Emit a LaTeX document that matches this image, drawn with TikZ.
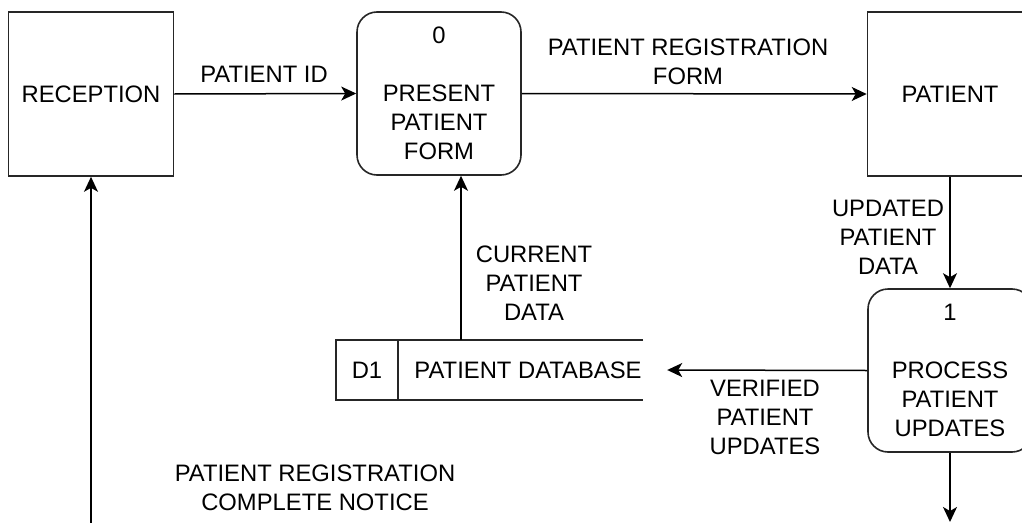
\documentclass[tikz,border=0pt]{standalone}
\usepackage{fontspec}
\setmainfont{Liberation Sans}
\usetikzlibrary{arrows.meta,calc}
\begin{document}
\begin{tikzpicture}[x=1pt,y=-1pt,
  every node/.style={font=\fontsize{23.8}{29}\selectfont, text=black, inner sep=0pt, align=center},
  ent/.style={draw=black!85, line width=1.6pt, minimum width=165pt, minimum height=164pt},
  proc/.style={draw=black!85, line width=1.6pt, rounded corners=20pt, minimum width=164pt, minimum height=163pt},
  store/.style={draw=black!85, line width=1.6pt},
  arr/.style={draw=black, line width=1.5pt, -{Stealth[length=15pt,width=14pt,inset=4pt]}},
  lbl/.style={}]
\clip (0,0) rectangle (1022,522);
\fill[white] (0,0) rectangle (1022,522);

\node[ent] (rec) at (91,94) {RECEPTION};
\node[proc] (pform) at (439,93.5) {0\\~\\PRESENT\\PATIENT\\FORM};
\node[ent] (pat) at (950,94) {PATIENT};
\node[proc] (pproc) at (950,370.5) {1\\~\\PROCESS\\PATIENT\\UPDATES};

% data store
\node[minimum width=331pt, minimum height=60pt] (ds) at (501.5,370) {};
\node[minimum width=62pt, minimum height=60pt] (d1) at (367,370) {D1};
\node (dbt) at (528,370) {PATIENT DATABASE};
\draw[store, line join=miter] ($(ds.north east)+(-24,0)$) -- (ds.north west) -- (ds.south west) -- ($(ds.south east)+(-24,0)$);
\draw[store] (d1.north east) -- (d1.south east);

\coordinate (cx) at (461,0);
\coordinate (recin) at (91,530);
\coordinate (procout) at (950,522);

\draw[arr] (rec.east) -- (pform.west);
\draw[arr] (pform.east) -- (pat.west);
\draw[arr] (pat.south) -- (pproc.north);
\draw[arr] (pproc.west) -- (ds.east);
\draw[arr] (ds.north -| cx) -- (pform.south -| cx);
\draw[arr] (recin) -- (rec.south);
\draw[arr] (pproc.south) -- (procout);

\node[lbl] (l1) at (264,74) {PATIENT ID};
\node[lbl] (l2) at (688,62) {PATIENT REGISTRATION\\FORM};
\node[lbl] (l3) at (888,237) {UPDATED\\PATIENT\\DATA};
\node[lbl] (l4) at (765,417) {VERIFIED\\PATIENT\\UPDATES};
\node[lbl] (l5) at (534,283) {CURRENT\\PATIENT\\DATA};
\node[lbl] (l6) at (315,488) {PATIENT REGISTRATION\\COMPLETE NOTICE};
\end{tikzpicture}
\end{document}
